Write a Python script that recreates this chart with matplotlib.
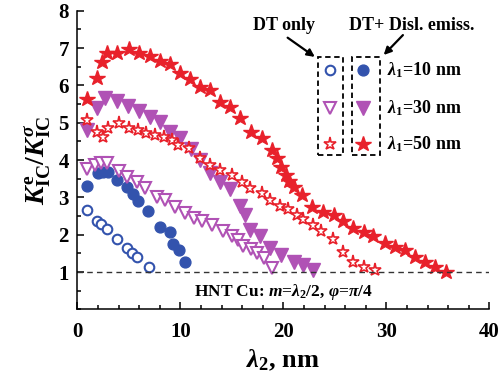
import matplotlib
matplotlib.use('Agg')
import matplotlib.pyplot as plt
from matplotlib.patches import Rectangle
from matplotlib.ticker import MultipleLocator

plt.rcParams['font.family'] = ['Liberation Serif', 'DejaVu Serif']
plt.rcParams['font.weight'] = 'bold'
plt.rcParams['axes.labelweight'] = 'bold'
plt.rcParams['mathtext.fontset'] = 'custom'
plt.rcParams['mathtext.rm'] = 'Liberation Serif:bold'
plt.rcParams['mathtext.it'] = 'Liberation Serif:italic:bold'
plt.rcParams['mathtext.bf'] = 'Liberation Serif:bold'

# lambda1 = 10 nm
c10_dt_x = [0.9, 1.9, 2.3, 2.9, 3.9, 4.85, 5.3, 5.8, 7.0]
c10_dt_y = [2.66, 2.38, 2.29, 2.15, 1.89, 1.64, 1.5, 1.4, 1.13]
c10_de_x = [0.9, 2.0, 2.5, 3.0, 3.9, 4.8, 5.4, 5.9, 6.9, 8.05, 9.0, 9.3, 9.9, 10.5]
c10_de_y = [3.31, 3.65, 3.67, 3.69, 3.47, 3.28, 3.08, 2.9, 2.63, 2.21, 2.07, 1.75, 1.58, 1.26]

# lambda1 = 30 nm
t30_dt_x = [0.9, 1.7, 2.3, 2.9, 4.0, 4.8, 5.8, 6.6, 7.7, 8.5, 9.5, 10.5, 11.3, 12.1,
            13.1, 14.1, 15.0, 15.6, 16.1, 16.9, 17.4, 18.1, 18.9]
t30_dt_y = [3.75, 3.88, 3.92, 3.92, 3.7, 3.56, 3.42, 3.24, 3.02, 2.93, 2.75, 2.58, 2.46, 2.36,
            2.25, 2.11, 1.97, 1.86, 1.7, 1.61, 1.51, 1.37, 1.1]
t30_de_x = [0.9, 1.9, 2.7, 3.9, 4.9, 6.0, 7.1, 8.0, 9.0, 10.0, 11.0, 11.9, 12.9, 13.9,
            14.8, 15.8, 16.3, 16.8, 17.7, 18.7, 19.8, 21.0, 21.9, 22.9]
t30_de_y = [4.8, 5.4, 5.65, 5.57, 5.45, 5.32, 5.15, 5.03, 4.76, 4.58, 4.3, 4.0, 3.65, 3.42,
            3.22, 2.77, 2.53, 2.13, 1.97, 1.64, 1.46, 1.28, 1.19, 1.05]

# lambda1 = 50 nm
s50_dt_x = [0.9, 1.9, 2.5, 3.0, 4.0, 5.0, 5.9, 6.7, 7.5, 8.4, 9.2, 9.8, 10.8, 11.9, 12.9,
            13.9, 15.0, 16.0, 16.8, 17.9, 18.7, 19.7, 20.5, 21.3, 21.9, 22.9, 23.7, 24.8,
            25.8, 26.8, 27.8, 28.9]
s50_dt_y = [5.07, 4.76, 4.63, 4.85, 4.98, 4.85, 4.8, 4.72, 4.67, 4.63, 4.54, 4.4, 4.32, 4.05,
            3.87, 3.74, 3.6, 3.4, 3.25, 3.12, 2.94, 2.78, 2.68, 2.54, 2.42, 2.27, 2.1, 1.9,
            1.55, 1.28, 1.15, 1.05]
s50_de_x = [0.9, 1.9, 2.4, 2.9, 3.9, 5.0, 6.0, 7.1, 8.0, 9.0, 10.0, 10.9, 11.9, 12.9, 13.9,
            14.8, 15.8, 16.9, 17.9, 18.9, 19.4, 19.8, 20.3, 20.6, 21.0, 21.8, 22.8, 23.9,
            24.9, 25.8, 26.8, 27.8, 28.7, 29.9, 30.8, 31.8, 32.8, 33.8, 34.7, 35.8]
s50_de_y = [5.63, 6.19, 6.62, 6.86, 6.88, 6.97, 6.88, 6.8, 6.66, 6.57, 6.32, 6.16, 5.95, 5.87,
            5.56, 5.43, 5.12, 4.76, 4.58, 4.27, 4.05, 3.82, 3.6, 3.45, 3.29, 3.07, 2.75, 2.62,
            2.52, 2.38, 2.17, 2.08, 1.97, 1.79, 1.66, 1.59, 1.4, 1.28, 1.15, 1.01]

labels = ['$\\lambda_1$=10 nm', '$\\lambda_1$=30 nm', '$\\lambda_1$=50 nm']

blue = '#3353ad'
purple = '#b052b5'
red = '#e8212b'

fig = plt.figure(figsize=(5, 3.87), dpi=100)
ax = fig.add_axes([0.1546, 0.2003, 0.824, 0.7721])

ax.plot(c10_dt_x, c10_dt_y, 'o', ms=6.9, mfc='white', mec=blue, mew=1.5, ls='none')
ax.plot(c10_de_x, c10_de_y, 'o', ms=7.8, color=blue, ls='none')
ax.plot(t30_dt_x, t30_dt_y, 'v', ms=8, mfc='white', mec=purple, mew=1.5, ls='none')
ax.plot(t30_de_x, t30_de_y, 'v', ms=9.5, color=purple, ls='none')
ax.plot(s50_dt_x, s50_dt_y, '*', ms=9.5, mfc='white', mec=red, mew=1.2, ls='none')
ax.plot(s50_de_x, s50_de_y, '*', ms=11.5, color=red, ls='none')

ax.axhline(1, color='#333333', ls=(0, (4, 3)), lw=1)

ax.set_xlim(0, 40)
ax.set_ylim(0, 8)
ax.set_xticks([0, 10, 20, 30, 40])
ax.set_yticks([1, 2, 3, 4, 5, 6, 7, 8])
ax.xaxis.set_minor_locator(MultipleLocator(2))
ax.yaxis.set_minor_locator(MultipleLocator(0.5))
ax.tick_params(which='both', direction='in', width=1.1, labelsize=15)
ax.tick_params(which='major', length=5)
ax.tick_params(which='minor', length=3)
ax.tick_params(axis='x', pad=9)
ax.tick_params(axis='y', pad=6)
ax.spines['top'].set_visible(False)
ax.spines['right'].set_visible(False)
for s in ['left', 'bottom']:
    ax.spines[s].set_linewidth(1.1)

ax.set_xlabel('$\\mathit{\\lambda}_2$, nm', fontsize=19, fontweight='bold', labelpad=4)
ax.set_ylabel('$K^{\\mathrm{e}}_{\\mathrm{IC}}/K^{\\sigma}_{\\mathrm{IC}}$', fontsize=20, labelpad=4)

ax.text(0.5, 0.059, 'HNT Cu: $m$=$\\lambda_2$/2, $\\varphi$=$\\pi$/4', transform=ax.transAxes,
        ha='center', va='center', fontsize=12.5, fontweight='bold')

# legend built by hand
tr = ax.transAxes
rows = [0.801, 0.674, 0.553]
ax.plot(0.613, rows[0], 'o', transform=tr, ms=6.9, mfc='white', mec=blue, mew=1.5, clip_on=False)
ax.plot(0.693, rows[0], 'o', transform=tr, ms=7.8, color=blue, clip_on=False)
ax.plot(0.613, rows[1], 'v', transform=tr, ms=8, mfc='white', mec=purple, mew=1.5, clip_on=False)
ax.plot(0.693, rows[1], 'v', transform=tr, ms=9.5, color=purple, clip_on=False)
ax.plot(0.613, rows[2], '*', transform=tr, ms=9.5, mfc='white', mec=red, mew=1.2, clip_on=False)
ax.plot(0.693, rows[2], '*', transform=tr, ms=11.5, color=red, clip_on=False)
for r, lab in zip(rows, labels):
    ax.text(0.751, r, lab, transform=tr, ha='left', va='center', fontsize=13, fontweight='bold')

ax.add_patch(Rectangle((0.584, 0.518), 0.061, 0.327, transform=tr, fill=False,
                       ls=(0, (3, 2)), lw=1.3, ec='black'))
ax.add_patch(Rectangle((0.667, 0.518), 0.067, 0.327, transform=tr, fill=False,
                       ls=(0, (3, 2)), lw=1.3, ec='black'))

ax.text(0.502, 0.952, 'DT only', transform=tr, ha='center', va='center', fontsize=13, fontweight='bold')
ax.text(0.812, 0.952, 'DT+ Disl. emiss.', transform=tr, ha='center', va='center', fontsize=13,
        fontweight='bold')
ax.annotate('', xy=(0.582, 0.84), xytext=(0.505, 0.915), xycoords=tr, textcoords=tr,
            arrowprops=dict(arrowstyle='-|>', color='black', lw=1.6, mutation_scale=11))
ax.annotate('', xy=(0.739, 0.845), xytext=(0.795, 0.925), xycoords=tr, textcoords=tr,
            arrowprops=dict(arrowstyle='-|>', color='black', lw=1.6, mutation_scale=11))

fig.savefig('out.png', dpi=100)
